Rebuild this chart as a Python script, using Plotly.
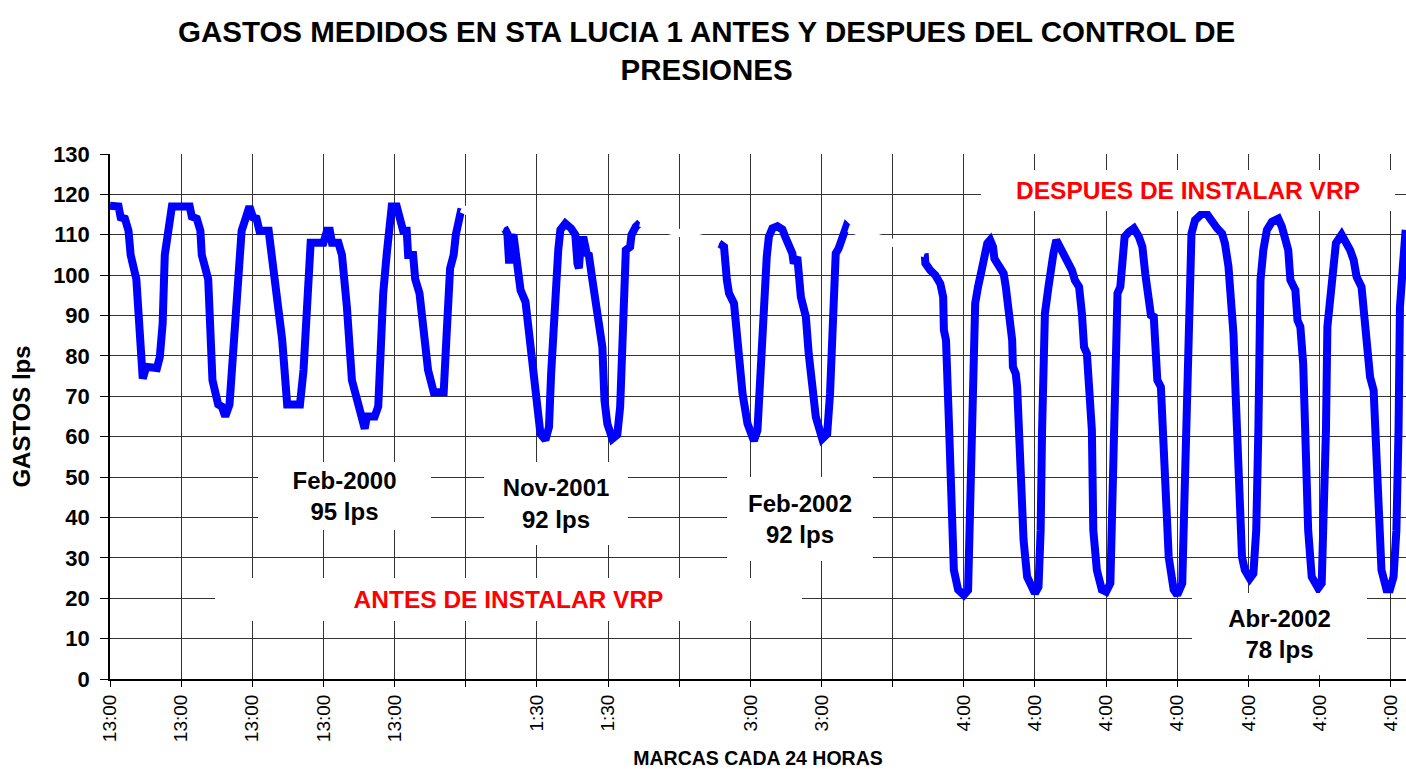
import plotly.graph_objects as go

# Tiempo en días desde la primera marca (una marca cada 24 horas) y gasto en lps
feb2000_dias = [0.0, 0.12, 0.15, 0.21, 0.26, 0.29, 0.37, 0.42, 0.46, 0.51, 0.66, 0.70, 0.74, 0.77,
                0.82, 0.87, 1.12, 1.15, 1.22, 1.27, 1.29, 1.38, 1.44, 1.52, 1.57, 1.62, 1.68, 1.71,
                1.76, 1.80, 1.85, 1.96, 2.01, 2.06, 2.10, 2.23, 2.27, 2.34, 2.42, 2.49, 2.67, 2.72,
                2.76, 2.82, 3.00, 3.05, 3.09, 3.12, 3.21, 3.26, 3.33, 3.40, 3.49, 3.58, 3.61, 3.72,
                3.77, 3.81, 3.84, 3.89, 3.96, 4.03, 4.08, 4.12, 4.17, 4.19, 4.26, 4.29, 4.35, 4.40,
                4.47, 4.55, 4.69, 4.73, 4.78, 4.83, 4.86, 4.94]
feb2000_lps = [117.2, 117, 114.3, 114, 111, 105, 99, 85.5, 74.4, 77.3, 77, 79.7, 88, 105,
               110, 117, 117, 114.5, 114, 111, 105, 99, 74, 68, 67.5, 65, 68, 75.6,
               90.5, 102, 111, 117, 114.3, 114, 111, 111, 105, 94, 84, 68, 68, 76.5,
               92, 108, 108, 111, 111, 108, 108, 105, 92, 74, 68, 62, 65, 65,
               67.5, 84, 95.5, 105.4, 117, 117, 114.5, 111, 111, 105, 105, 99, 95.5, 85.5,
               76.5, 71, 71, 85, 101.7, 105, 110, 116.5]

nov2001_dias = [5.54, 5.585, 5.61, 5.63, 5.67, 5.70, 5.75, 5.77, 5.84, 5.89, 5.94, 5.98, 6.05,
                6.12, 6.17, 6.20, 6.24, 6.26, 6.30, 6.33, 6.40, 6.48, 6.54, 6.57, 6.59, 6.62,
                6.66, 6.70, 6.73, 6.78, 6.83, 6.87, 6.92, 6.95, 6.99, 7.06, 7.13, 7.17, 7.20,
                7.23, 7.25, 7.31, 7.33, 7.39, 7.45]
nov2001_lps = [111.8, 110.3, 102.9, 108.7, 110, 106.2, 100.4, 96.3, 93.4, 85.5, 75.6, 67.4, 60.7,
               59.2, 62.4, 75.6, 92, 100.4, 106.2, 111.2, 112.8, 111.6, 110, 102.9, 101.7, 108.7,
               108.7, 105.4, 105, 98.8, 93.8, 89.7, 82.2, 69, 63.2, 59.5, 60.5, 67.4, 83.9,
               98.8, 106.2, 107, 110, 112, 113]

feb2002_dias = [8.56, 8.63, 8.67, 8.70, 8.77, 8.79, 8.84, 8.89, 8.96, 9.05, 9.10, 9.14, 9.19,
                9.23, 9.26, 9.31, 9.38, 9.45, 9.49, 9.54, 9.59, 9.61, 9.66, 9.71, 9.78, 9.82,
                9.87, 9.92, 10.01, 10.08, 10.12, 10.15, 10.17, 10.20, 10.24, 10.29, 10.35, 10.38]
feb2002_lps = [107.9, 107, 98.8, 95.5, 93, 88.8, 82.2, 70.7, 63.2, 59, 61.6, 75.6, 98.8,
               104.5, 109.5, 111.6, 112.1, 111.3, 109.5, 107, 105.4, 102.9, 104.5, 94.6, 89.7, 80.6,
               69.8, 64.9, 59.5, 60.7, 70.7, 87.2, 100.4, 105.4, 106.6, 109.5, 112.1, 111.6]

abr2002_dias = [11.45, 11.46, 11.53, 11.60, 11.67, 11.71, 11.72, 11.75, 11.79, 11.82, 11.86, 11.92,
                12.00, 12.06, 12.08, 12.10, 12.12, 12.13, 12.16, 12.20, 12.23, 12.26, 12.28, 12.30,
                12.33, 12.37, 12.41, 12.43, 12.49, 12.56, 12.59, 12.62, 12.65, 12.68, 12.69, 12.73,
                12.75, 12.77, 12.80, 12.82, 12.84, 12.89, 13.00, 13.05, 13.08, 13.10, 13.11, 13.14,
                13.19, 13.22, 13.26, 13.30, 13.35, 13.41, 13.48, 13.52, 13.56, 13.62, 13.66, 13.69,
                13.73, 13.77, 13.80, 13.82, 13.87, 13.94, 14.00, 14.06, 14.08, 14.11, 14.13, 14.16,
                14.20, 14.23, 14.26, 14.32, 14.39, 14.46, 14.51, 14.55, 14.60, 14.63, 14.67, 14.70,
                14.72, 14.77, 14.80, 14.85, 14.88, 14.95, 15.00, 15.07, 15.09, 15.11, 15.13, 15.17,
                15.20, 15.25, 15.34, 15.41, 15.48, 15.56, 15.63, 15.67, 15.72, 15.75, 15.79, 15.82,
                15.86, 15.91, 15.95, 16.02, 16.07, 16.11, 16.14, 16.15, 16.17, 16.21, 16.26, 16.33,
                16.42, 16.47, 16.52, 16.56, 16.59, 16.66, 16.69, 16.73, 16.77, 16.80, 16.84, 16.89,
                16.98, 17.03, 17.06, 17.09, 17.11, 17.14, 17.17, 17.19, 17.23, 17.31, 17.36, 17.43,
                17.48, 17.52, 17.59, 17.62, 17.66, 17.71, 17.76, 17.79, 17.83, 17.87, 17.94, 17.99,
                18.04, 18.08, 18.11, 18.13, 18.17, 18.21]
abr2002_lps = [105.4, 102.9, 101.2, 100, 97.9, 94.6, 86.4, 83.9, 64, 40, 27, 22.1,
               20.8, 22, 37, 61.6, 77.3, 90.5, 93, 97.1, 98.8, 102, 103.7, 106.2,
               107.9, 108.7, 107, 104.1, 102, 100.4, 97.1, 93, 90.5, 83.9, 77.3, 75.6,
               72.3, 62, 50.9, 46.8, 34.4, 25.3, 21.2, 22.8, 36.8, 61.6, 85.5, 90.5,
               97.1, 102.9, 105.4, 108.7, 107, 105.4, 102.9, 101.2, 98.8, 97.1, 90.5, 82.2,
               80.6, 70.7, 61.6, 36.8, 27, 22.1, 21.6, 23.7, 36.8, 61.6, 86.4, 95.5,
               97.1, 103.7, 109.5, 110.7, 111.6, 109.5, 107, 100.4, 95.5, 90.1, 89.7, 79.8,
               74, 72.3, 60.7, 46.8, 30.2, 22.1, 20.8, 23.7, 36.8, 61.6, 79.8, 100.4,
               110.3, 113.6, 115.1, 115.3, 113.2, 111.6, 110.3, 107.9, 102.1, 95.5, 85.5, 70.7,
               50, 30.2, 27, 24.9, 26.1, 36.8, 61.6, 83.9, 98.8, 106.2, 111.2, 113.2,
               114, 112, 109.5, 106.2, 98.8, 96.3, 88.8, 87.2, 78.1, 60.7, 36.8, 25.3,
               22.5, 23.7, 36.8, 61.6, 87.2, 93.8, 100.4, 104.5, 107.9, 110, 108.7, 106.2,
               103.7, 99.6, 97.1, 91.3, 85.5, 74.8, 71.5, 61.6, 40, 27, 22.2, 22.2,
               25.3, 36.8, 61.6, 92.1, 102, 111.2]

marcas = list(range(19))
etiquetas = ["13:00", "13:00", "13:00", "13:00", "13:00", "",
             "1:30", "1:30", "", "3:00", "3:00", "",
             "4:00", "4:00", "4:00", "4:00", "4:00", "4:00", "4:00"]

tramos = [(feb2000_dias, feb2000_lps), (nov2001_dias, nov2001_lps),
          (feb2002_dias, feb2002_lps), (abr2002_dias, abr2002_lps)]

AZUL = "#0000FF"
FUENTE = "Arial, Liberation Sans, sans-serif"
ANCHO_LINEA = 8

fig = go.Figure()
for dias, lps in tramos:
    fig.add_trace(go.Scatter(x=dias, y=lps, mode="lines",
                             line=dict(color=AZUL, width=ANCHO_LINEA, shape="linear"),
                             hoverinfo="skip", showlegend=False))

# Uniones blancas entre campañas de medición
for (d1, q1), (d2, q2) in zip(tramos[:-1], tramos[1:]):
    fig.add_trace(go.Scatter(x=[d1[-1], d2[0]], y=[q1[-1], q2[0]], mode="lines",
                             line=dict(color="white", width=ANCHO_LINEA),
                             hoverinfo="skip", showlegend=False))

etiqueta_negra = dict(size=24, color="black", family=FUENTE, weight="bold")
etiqueta_roja = dict(size=24.5, color="#FF0000", family=FUENTE, weight="bold")

cajas = [
    ("Feb-2000<br>95 lps", 3.296, 45.3, 173, 68, etiqueta_negra),
    ("Nov-2001<br>92 lps", 6.268, 43.4, 144, 83, etiqueta_negra),
    ("Feb-2002<br>92 lps", 9.698, 39.6, 146, 84, etiqueta_negra),
    ("ANTES DE INSTALAR VRP", 5.601, 19.6, 587, 43, etiqueta_roja),
    ("DESPUES DE INSTALAR VRP", 15.151, 121.0, 414, 41, etiqueta_roja),
    ("Abr-2002<br>78 lps", 16.437, 11.1, 175, 82, etiqueta_negra),
]
for texto, x, y, w, h, f in cajas:
    fig.add_annotation(x=x, y=y, xref="x", yref="y", text=texto, showarrow=False,
                       width=w, height=h, bgcolor="white", borderpad=0, borderwidth=0,
                       align="center", valign="middle", font=f)

# Título en dos líneas, centrado sobre la figura
fig.add_annotation(
    text="GASTOS MEDIDOS EN STA LUCIA 1 ANTES Y DESPUES DEL CONTROL DE<br>PRESIONES",
    xref="paper", yref="paper", x=0.4605, y=1 + (154 - 50) / 525,
    xanchor="center", yanchor="middle", showarrow=False, align="center",
    font=dict(size=29.5, color="black", family=FUENTE, weight="bold"),
)

fig.update_layout(
    width=1406, height=769,
    margin=dict(l=110, r=0, t=154, b=90),
    paper_bgcolor="white", plot_bgcolor="white",
    font=dict(family=FUENTE, color="black"),
)

fig.update_xaxes(
    range=[0, 18.215], tickmode="array", tickvals=marcas, ticktext=etiquetas,
    tickangle=-90, tickfont=dict(size=19, family=FUENTE, color="black"),
    ticks="outside", ticklen=6, tickcolor="black", tickwidth=1,
    showgrid=True, gridcolor="#333333", gridwidth=1,
    showline=True, linecolor="black", linewidth=2, zeroline=False, automargin=False,
    title=dict(text="MARCAS CADA 24 HORAS", standoff=16,
               font=dict(size=19.5, family=FUENTE, color="black", weight="bold")),
)
fig.update_yaxes(
    range=[0, 130], dtick=10, tick0=0,
    tickfont=dict(size=22, family=FUENTE, color="black", weight="bold"),
    ticks="outside", ticklen=8, tickcolor="black", tickwidth=1, ticklabelstandoff=6,
    showgrid=True, gridcolor="#333333", gridwidth=1,
    showline=True, linecolor="black", linewidth=1.5, zeroline=False, automargin=False,
    title=dict(text="GASTOS lps", standoff=16,
               font=dict(size=24, family=FUENTE, color="black", weight="bold")),
)

fig.write_html("out.html", config={"displayModeBar": False})
